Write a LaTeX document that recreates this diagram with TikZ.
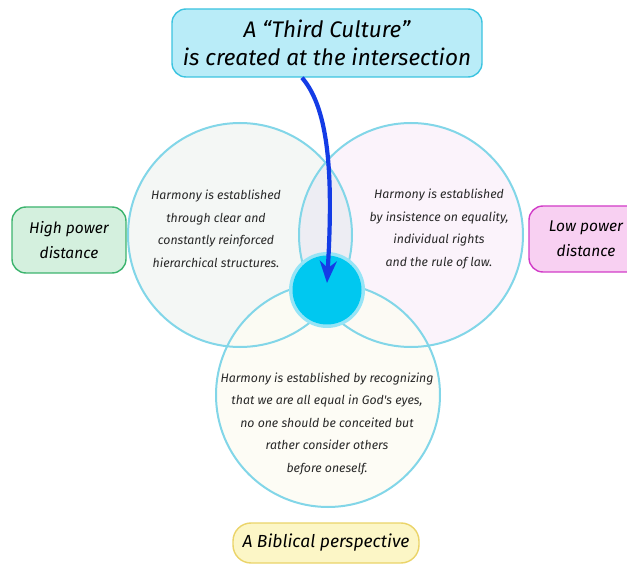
\documentclass[tikz,border=0pt]{standalone}
\usepackage{fontspec}
\usepackage{xcolor}
\usepackage{tikz}
\usetikzlibrary{arrows.meta,positioning,calc,backgrounds}
\newfontfamily\hand{Fira Sans}
\definecolor{ringline}{RGB}{130,214,232}
\definecolor{leftfill}{RGB}{242,246,243}
\definecolor{rightfill}{RGB}{251,241,250}
\definecolor{bottomfill}{RGB}{253,252,243}
\definecolor{lensfill}{RGB}{237,237,243}
\definecolor{thirdfill}{RGB}{185,236,248}
\definecolor{thirddraw}{RGB}{60,196,224}
\definecolor{highfill}{RGB}{212,240,222}
\definecolor{highdraw}{RGB}{60,180,110}
\definecolor{lowfill}{RGB}{248,208,242}
\definecolor{lowdraw}{RGB}{210,60,200}
\definecolor{bibfill}{RGB}{252,246,198}
\definecolor{bibdraw}{RGB}{235,212,105}
\definecolor{hubfill}{RGB}{0,200,240}
\definecolor{halofill}{RGB}{150,228,246}
\definecolor{arrowblue}{RGB}{20,60,230}
\definecolor{bodytext}{RGB}{40,40,40}

\begin{document}
\begin{tikzpicture}[
  x=1pt, y=-1pt,
  ring/.style={circle, draw=ringline, line width=2pt, minimum size=224pt,
               inner sep=0pt},
  body/.style={font=\hand\itshape\fontsize{12.3}{22.5}\selectfont, text=bodytext,
               align=center, inner sep=0pt},
  tagbox/.style={rounded corners=14pt, line width=1.4pt, align=center,
                 font=\hand\itshape\fontsize{15.5}{25}\selectfont, inner sep=5pt},
  arrow/.style={line width=4.2pt, draw=arrowblue,
                -{Stealth[length=22pt,width=17pt]}}
]
\useasboundingbox (0,0) rectangle (627,564);

% --- Three circles ---
\node[ring] (lc) at (240,235) {};
\node[ring] (rc) at (411,235) {};
\node[ring] (bc) at (328,395) {};

\begin{scope}[on background layer]
  \fill[white] (0,0) rectangle (627,564);
  \fill[leftfill, opacity=0.8] (lc.center) circle (112pt);
  \fill[rightfill, opacity=0.8] (rc.center) circle (112pt);
  \fill[bottomfill, opacity=0.8] (bc.center) circle (112pt);
  \begin{scope}
    \clip (lc.center) circle (112pt);
    \fill[lensfill] (rc.center) circle (112pt);
  \end{scope}
\end{scope}

% --- Intersection ---
\node[circle, fill=halofill, minimum size=76pt, inner sep=0pt] (halo) at (327,290) {};
\node[circle, fill=hubfill, minimum size=69pt, inner sep=0pt] (hub) at (327,290) {};

% --- Circle texts ---
\node[body] (ltext) at (216,229) {Harmony is established\\through clear and\\
  constantly reinforced\\hierarchical structures.};
\node[body] (rtext) at (439,229) {Harmony is established\\by insistence on equality,\\
  individual rights\\and the rule of law.};
\node[body] (btext) at (327,424) {Harmony is established by recognizing\\
  that we are all equal in God's eyes,\\no one should be conceited but\\
  rather consider others\\before oneself.};

% --- Labels ---
\node[tagbox, fill=thirdfill, draw=thirddraw, minimum width=310pt,
      minimum height=68pt, font=\hand\itshape\fontsize{22.5}{28}\selectfont]
  (third) at (327,43) {A “Third Culture”\\is created at the intersection};
\node[tagbox, fill=highfill, draw=highdraw, minimum width=114pt,
      minimum height=66pt] (high) at (69,240) {High power\\distance};
\node[tagbox, fill=lowfill, draw=lowdraw, minimum width=114pt,
      minimum height=66pt] (low) at (586,239) {Low power\\distance};
\node[tagbox, fill=bibfill, draw=bibdraw, rounded corners=18pt,
      minimum width=186pt, minimum height=40pt, inner sep=3pt,
      font=\hand\itshape\fontsize{17.5}{25}\selectfont]
  (bib) at (326,543) {A Biblical perspective};

% --- Arrow ---
\draw[arrow] ([xshift=-25pt]third.south) .. controls (330,110) and (333,180)
  .. ([yshift=7pt]hub.center);

\end{tikzpicture}
\end{document}
